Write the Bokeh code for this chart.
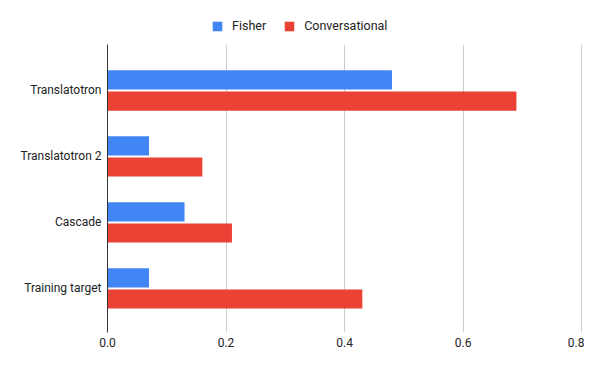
from bokeh.plotting import figure
from bokeh.layouts import column
from bokeh.models import (ColumnDataSource, Range1d, FixedTicker, NumeralTickFormatter,
                          Legend, LegendItem, LinearAxis)
from bokeh.transform import dodge
from bokeh.embed import file_html
from bokeh.resources import INLINE

categories = ["Translatotron", "Translatotron 2", "Cascade", "Training target"]
fisher = [0.48, 0.07, 0.13, 0.07]
conversational = [0.69, 0.16, 0.21, 0.43]
series_names = ["Fisher", "Conversational"]
x_ticks = [0.0, 0.2, 0.4, 0.6, 0.8]

BLUE = "#4285F4"
RED = "#EA4335"
FONT = "Roboto"

idx = list(range(len(categories)))
src = ColumnDataSource(dict(y=idx, fisher=fisher, conv=conversational))

p = figure(width=584, height=311, output_backend="svg", toolbar_location=None,
           x_range=Range1d(0, 0.8015), y_range=Range1d(3.667, -0.697),
           min_border_left=107, min_border_right=2, min_border_top=0, min_border_bottom=23,
           x_axis_location=None, y_axis_location=None)
p.outline_line_color = None

bh = 0.29
p.hbar(y=dodge("y", -0.16), right="fisher", left=0, height=bh, source=src,
       fill_color=BLUE, line_color=None)
p.hbar(y=dodge("y", 0.16), right="conv", left=0, height=bh, source=src,
       fill_color=RED, line_color=None)

# x axis (bottom)
xa = LinearAxis(ticker=FixedTicker(ticks=x_ticks), formatter=NumeralTickFormatter(format="0.0"))
xa.axis_line_color = None
xa.major_tick_line_color = None
xa.major_tick_out = 0
xa.major_tick_in = 0
xa.minor_tick_line_color = None
xa.major_label_text_font = FONT
xa.major_label_text_font_size = "12px"
xa.major_label_text_color = "#222222"
xa.major_label_standoff = 5
p.add_layout(xa, "below")

# y axis (left)
ya = LinearAxis(ticker=FixedTicker(ticks=idx),
                major_label_overrides={i: c for i, c in zip(idx, categories)})
ya.axis_line_color = "#333333"
ya.axis_line_width = 1
ya.major_tick_line_color = None
ya.major_tick_out = 0
ya.major_tick_in = 0
ya.minor_tick_line_color = None
ya.major_label_text_font = FONT
ya.major_label_text_font_size = "12px"
ya.major_label_text_color = "#222222"
ya.major_label_standoff = 6
p.add_layout(ya, "left")

p.xgrid.ticker = FixedTicker(ticks=x_ticks)
p.xgrid.grid_line_color = "#cccccc"
p.ygrid.grid_line_color = None

# legend strip above the chart (proxy bars lie outside its visible range)
lf = figure(width=584, height=44, output_backend="svg", toolbar_location=None,
            x_range=Range1d(0, 1), y_range=Range1d(0, 1),
            min_border_left=0, min_border_right=0, min_border_top=0, min_border_bottom=0,
            x_axis_location=None, y_axis_location=None)
lf.outline_line_color = None
lf.xgrid.grid_line_color = None
lf.ygrid.grid_line_color = None
lr1 = lf.hbar(y=[-5], right=[0.5], left=0, height=0.1, fill_color=BLUE, line_color=None)
lr2 = lf.hbar(y=[-5], right=[0.5], left=0, height=0.1, fill_color=RED, line_color=None)
legend = Legend(items=[LegendItem(label=series_names[0], renderers=[lr1]),
                       LegendItem(label=series_names[1], renderers=[lr2])],
                orientation="horizontal", location=(104, 11),
                label_text_font=FONT, label_text_font_size="12.5px", label_text_color="#222222",
                glyph_width=12, glyph_height=12, spacing=17, label_standoff=9,
                padding=4, margin=0, border_line_color=None, background_fill_alpha=0)
lf.add_layout(legend, "center")

layout = column(lf, p, spacing=0)
open("out.html", "w").write(file_html(layout, INLINE))
